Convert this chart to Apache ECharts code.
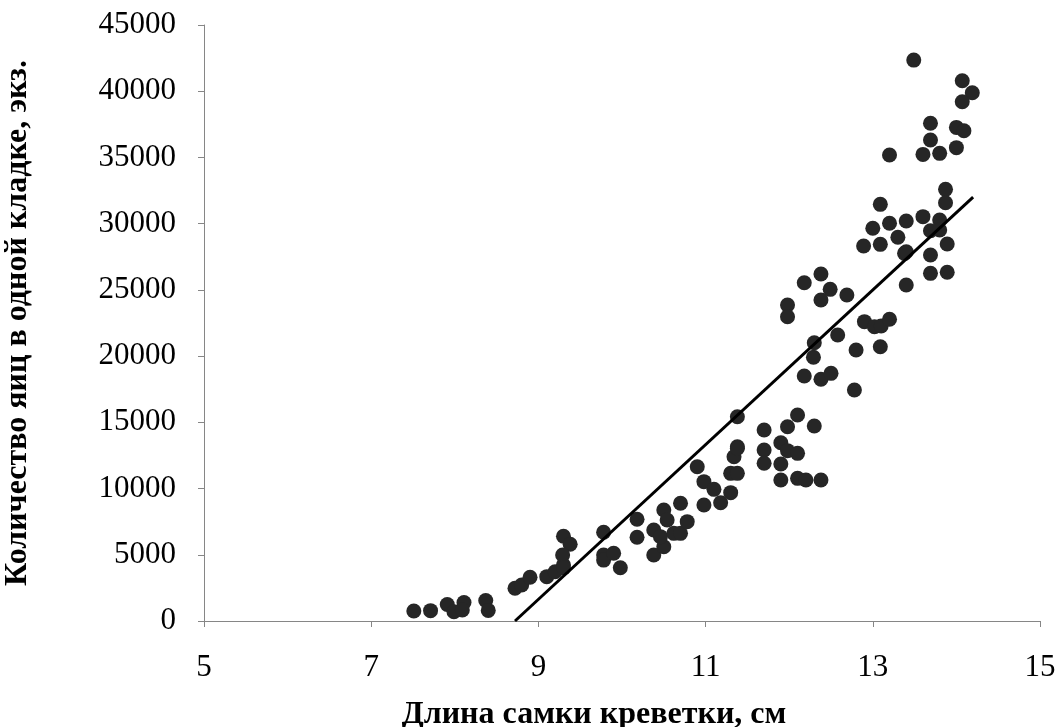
<!DOCTYPE html>
<html><head><meta charset="utf-8">
<script src="https://cdn.jsdelivr.net/npm/echarts@6/dist/echarts.min.js"></script>
<style>html,body{margin:0;padding:0;background:#fff}#c{width:1059px;height:727px}</style>
</head><body><div id="c"></div>
<script>
const lengths = [7.51,7.71,7.91,7.99,8.11,8.09,8.37,8.40,8.72,8.80,8.90,9.10,9.20,9.30,
9.30,9.38,9.29,9.30,9.78,9.78,9.78,9.90,9.98,10.18,10.18,10.38,10.38,10.50,10.50,10.54,10.46,10.62,10.70,10.70,10.78,
10.90,10.98,11.10,10.98,11.18,11.30,11.34,11.30,11.38,
11.38,12.10,11.98,12.30,11.70,11.70,11.90,11.98,12.10,11.70,11.90,11.90,12.10,12.20,12.38,11.38,11.38,12.78,
12.18,12.38,12.49,12.38,12.69,11.98,11.98,13.38,13.40,12.90,13.02,13.10,13.20,12.58,12.30,12.29,12.80,13.09,12.18,12.38,12.50,
13.49,14.07,14.19,14.07,13.69,14.00,14.09,13.69,13.20,13.60,13.80,14.00,13.87,13.87,13.09,13.00,13.20,13.40,13.60,13.80,
13.69,13.80,12.89,13.09,13.30,13.40,13.89,13.69,13.69,13.89];
const eggs = [750,780,1250,700,1400,830,1550,800,2470,2720,3300,3350,3720,4230,
6400,5800,4980,4000,6700,4980,4600,5110,4020,7680,6320,6870,4980,8380,5610,7630,6370,6620,8890,6620,7500,
11650,10520,9940,8760,8930,9690,12400,11150,13160,
15420,15550,14670,14720,14420,12910,13460,12860,12660,11910,11850,10650,10770,10650,10650,13040,11150,17440,
25540,26200,25040,24240,24610,23860,22970,27760,25370,22600,22220,22270,22780,21590,21010,19910,20460,20710,18500,18250,18700,
42350,40790,39890,39210,37580,37270,37020,36320,35180,35230,35310,35740,32590,31580,31460,29650,30030,30200,30530,30280,
29470,29520,28310,28440,28970,27880,28460,27630,26250,26330];
const trendX = [8.72, 14.2];
const trendY = [0, 32000];
const xTicks = [5,7,9,11,13,15];
const yTicks = [0,5000,10000,15000,20000,25000,30000,35000,40000,45000];

const pts = lengths.map((x,i)=>[x,eggs[i]]);
const trend = trendX.map((x,i)=>[x,trendY[i]]);
const chart = echarts.init(document.getElementById('c'));
const font = '"Liberation Serif","Times New Roman",serif';
chart.setOption({
  animation:false,
  backgroundColor:'#fff',
  grid:{left:204,right:19,top:25,bottom:106,containLabel:false,outerBoundsMode:'none'},
  xAxis:{type:'value',min:xTicks[0],max:xTicks[xTicks.length-1],interval:2,
    name:'Длина самки креветки, см',nameLocation:'middle',nameGap:78,
    nameTextStyle:{fontFamily:font,fontSize:32,fontWeight:'bold',color:'#000',padding:[0,56,0,0]},
    axisLine:{show:true,lineStyle:{color:'#868686',width:1}},
    axisTick:{show:true,inside:false,length:6,lineStyle:{color:'#868686'}},
    axisLabel:{fontFamily:font,fontSize:31,color:'#000',margin:31,formatter:v=>String(v)},
    splitLine:{show:false}},
  yAxis:{type:'value',min:yTicks[0],max:yTicks[yTicks.length-1],interval:5000,
    name:'Количество яиц в одной кладке, экз.',nameLocation:'middle',nameGap:170,
    nameTextStyle:{fontFamily:font,fontSize:32,fontWeight:'bold',color:'#000'},
    axisLine:{show:true,lineStyle:{color:'#868686',width:1}},
    axisTick:{show:true,inside:false,length:6,lineStyle:{color:'#868686'}},
    axisLabel:{fontFamily:font,fontSize:31,color:'#000',margin:28,formatter:v=>String(v)},
    splitLine:{show:false}},
  series:[
    {type:'scatter',data:pts,symbol:'circle',symbolSize:15,itemStyle:{color:'#262626',opacity:1},z:2},
    {type:'line',data:trend,symbol:'none',lineStyle:{color:'#000',width:3},z:3}
  ]
});
</script></body></html>
